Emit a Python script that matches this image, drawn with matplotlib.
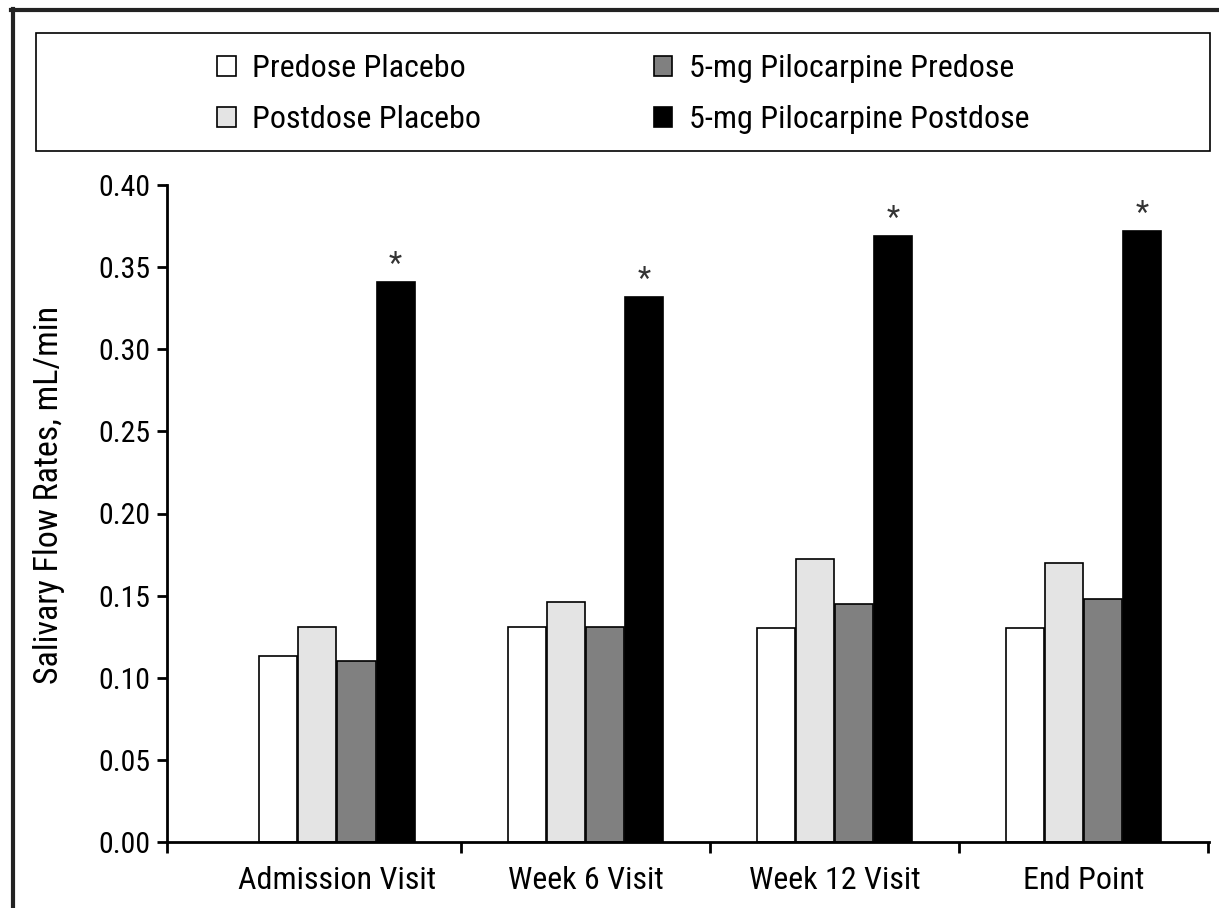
import numpy as np
import matplotlib
matplotlib.use("Agg")
import matplotlib.pyplot as plt
from matplotlib import font_manager
from matplotlib.lines import Line2D
from matplotlib.patches import Rectangle

# fonte estreita se existir, senao Liberation Sans
nomes = {f.name for f in font_manager.fontManager.ttflist}
fonte = "Liberation Sans"
for cand in ["Liberation Sans Narrow", "Arial Narrow", "Roboto Condensed",
             "Open Sans Condensed", "Noto Sans Condensed"]:
    if cand in nomes:
        fonte = cand
        break
plt.rcParams["font.family"] = [fonte, "DejaVu Sans"]

# dados
visitas = ["Admission Visit", "Week 6 Visit", "Week 12 Visit", "End Point"]
series = ["Predose Placebo", "Postdose Placebo",
          "5-mg Pilocarpine Predose", "5-mg Pilocarpine Postdose"]
predose_placebo = [0.113, 0.131, 0.130, 0.130]
postdose_placebo = [0.131, 0.146, 0.172, 0.170]
pilo_predose = [0.110, 0.131, 0.145, 0.148]
pilo_postdose = [0.341, 0.332, 0.369, 0.372]
cores = ["white", "#e4e4e4", "#808080", "black"]
yticks = [0.00, 0.05, 0.10, 0.15, 0.20, 0.25, 0.30, 0.35, 0.40]

W, H = 1219, 908
fig = plt.figure(figsize=(W / 100, H / 100), dpi=100)
ax = fig.add_axes([167 / W, 1 - 842 / H, (1209 - 167) / W, (842 - 185) / H])

x = np.arange(len(visitas))
largura = 0.153
passo = 0.157
valores = [predose_placebo, postdose_placebo, pilo_predose, pilo_postdose]
for i, (nome, vals, cor) in enumerate(zip(series, valores, cores)):
    ax.bar(x + (i - 1.5) * passo, vals, width=largura, color=cor,
           edgecolor="black", linewidth=1.2, label=nome)

# asteriscos sobre as barras do pos-dose
for xi, v in zip(x + 1.5 * passo, pilo_postdose):
    ax.annotate("*", (xi, v), xytext=(0, 2), textcoords="offset points",
                ha="center", va="bottom", fontsize=22, color="#333333")

ax.set_xlim(-0.683, 3.504)
ax.set_ylim(0, 0.40)
ax.set_yticks(yticks)
ax.set_yticklabels([f"{t:.2f}" for t in yticks])
ax.set_xticks(x)
ax.set_xticklabels(visitas)
ax.set_xticks([-0.683, 0.5, 1.5, 2.5, 3.5], minor=True)
ax.tick_params(axis="x", which="major", length=0, pad=17, labelsize=23)
ax.tick_params(axis="x", which="minor", length=8, width=2, direction="out")
ax.tick_params(axis="y", length=7, width=2, pad=5, labelsize=21.5)

for s in ["top", "right"]:
    ax.spines[s].set_visible(False)
for s in ["left", "bottom"]:
    ax.spines[s].set_linewidth(2)

fig.text(49 / W, 1 - 495 / H, "Salivary Flow Rates, mL/min", rotation=90,
         ha="center", va="center", fontsize=24.5)

# caixa da legenda
fig.add_artist(Rectangle((36 / W, 1 - 151 / H), (1210 - 36) / W, (151 - 33) / H,
                         transform=fig.transFigure, fill=False,
                         edgecolor="black", linewidth=1.2))
handles, labels = ax.get_legend_handles_labels()
leg = fig.legend(handles, labels, ncol=2, loc="upper left",
                 bbox_to_anchor=(217 / W, 1 - 54 / H),
                 frameon=False, fontsize=23, handlelength=0.58, handleheight=0.58,
                 handletextpad=0.53, columnspacing=5.4, labelspacing=0.7,
                 borderpad=0, borderaxespad=0)

# moldura da figura
fig.add_artist(Line2D([13 / W, 13 / W], [0, 1 - 9 / H], color="#222222", lw=3,
                      transform=fig.transFigure))
fig.add_artist(Line2D([11 / W, 1], [1 - 10 / H, 1 - 10 / H], color="#222222", lw=3,
                      transform=fig.transFigure))

fig.savefig("out.png", dpi=100)
